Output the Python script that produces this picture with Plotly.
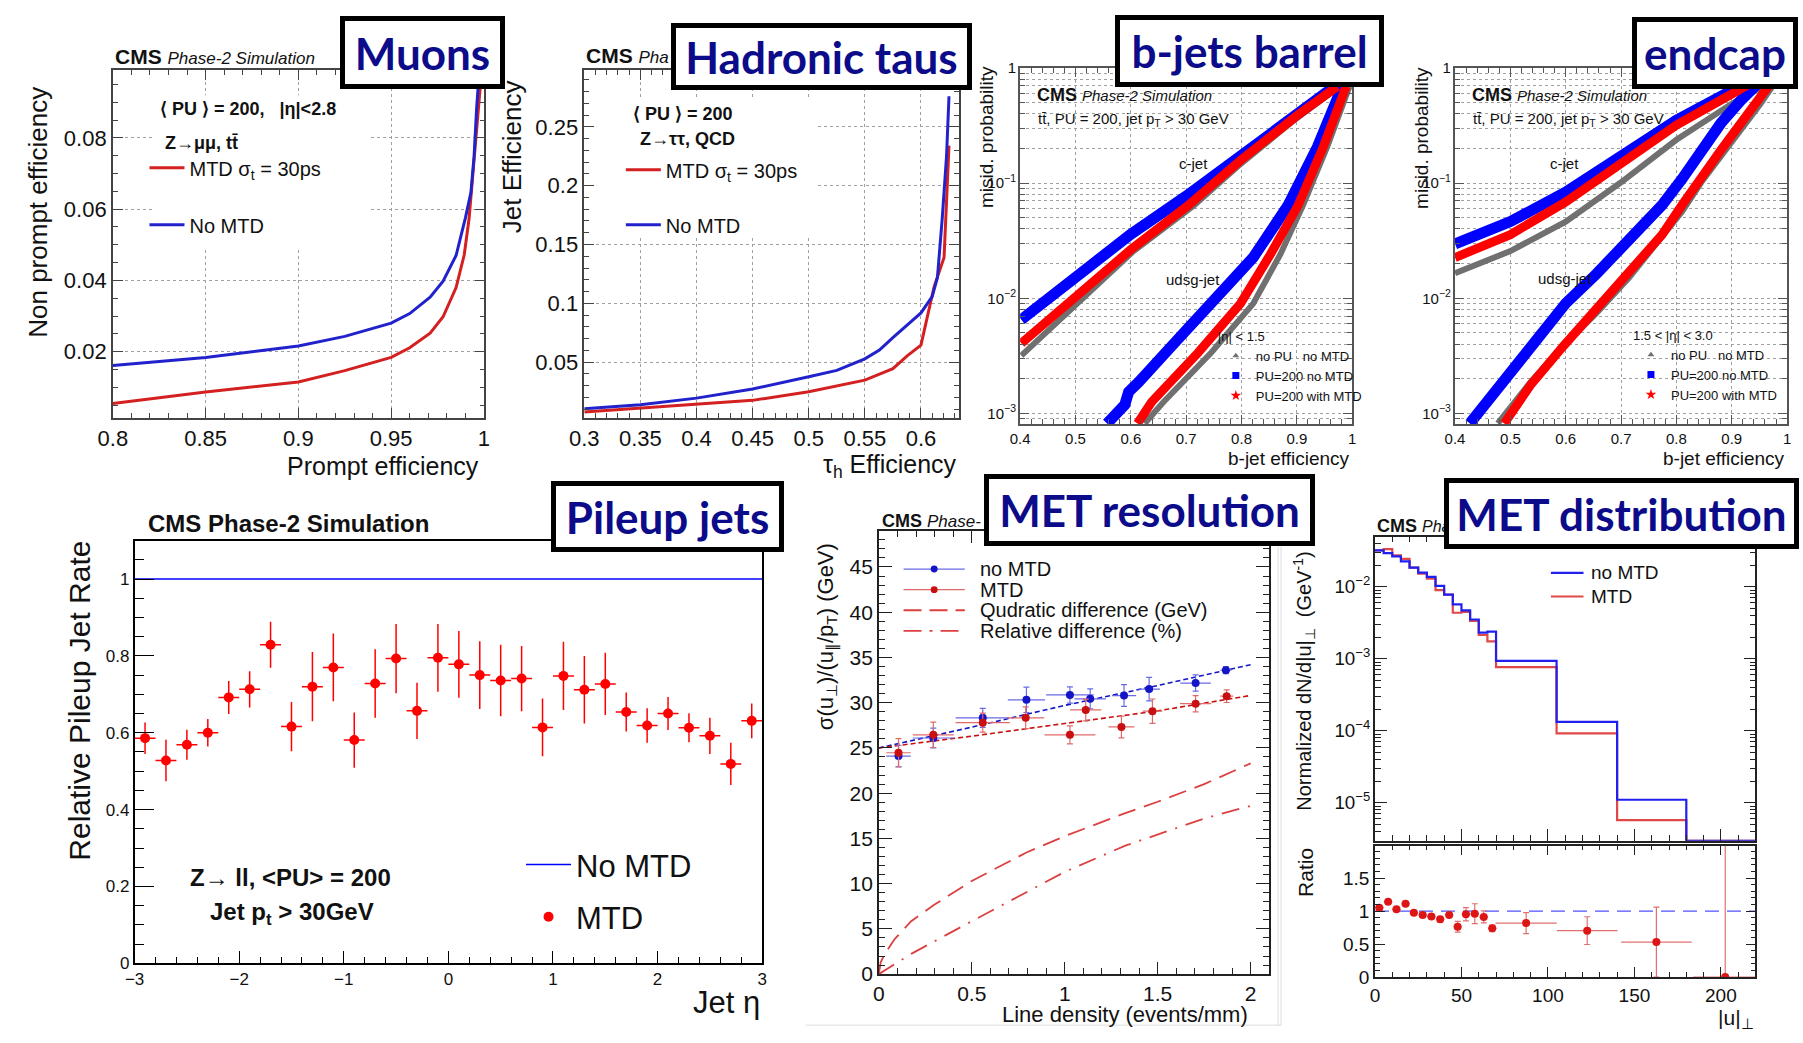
import plotly.graph_objects as go

W, H = 1803, 1043
FONT = "Liberation Sans, Arial, sans-serif"
BOXFONT = "Lato, Open Sans, sans-serif"
NAVY = "#0c0c8a"

# ===================== DATA =====================
# --- Muons: non-prompt vs prompt efficiency
mu_eff_nomtd = [0.800, 0.850, 0.900, 0.925, 0.950, 0.960, 0.971, 0.978, 0.985, 0.990, 0.993, 0.9947, 0.9961, 0.9974]
mu_np_nomtd = [0.0161, 0.0184, 0.0216, 0.0243, 0.0280, 0.0307, 0.0353, 0.0398, 0.0470, 0.0575, 0.0647, 0.0748, 0.0885, 0.0980]
mu_eff_mtd = [0.800, 0.850, 0.900, 0.925, 0.950, 0.960, 0.971, 0.978, 0.985, 0.9894, 0.992, 0.9944, 0.9956, 0.9970, 0.9983]
mu_np_mtd = [0.0055, 0.0087, 0.0115, 0.0147, 0.0184, 0.0211, 0.0252, 0.0298, 0.0380, 0.0472, 0.0573, 0.0720, 0.0812, 0.0885, 0.0960]

# --- Hadronic taus: jet efficiency vs tau_h efficiency
tau_eff_nomtd = [0.300, 0.350, 0.400, 0.450, 0.500, 0.525, 0.550, 0.563, 0.575, 0.600, 0.610, 0.6147, 0.619, 0.6228, 0.625]
tau_jet_nomtd = [0.0104, 0.0138, 0.0194, 0.0272, 0.0375, 0.0430, 0.0528, 0.0603, 0.0709, 0.0918, 0.1057, 0.1220, 0.1727, 0.2250, 0.2760]
tau_eff_mtd = [0.300, 0.350, 0.400, 0.450, 0.500, 0.550, 0.575, 0.588, 0.600, 0.6044, 0.6117, 0.6206, 0.6228, 0.625]
tau_jet_mtd = [0.0077, 0.0110, 0.0138, 0.0175, 0.0249, 0.0347, 0.0444, 0.0556, 0.0645, 0.0834, 0.1140, 0.1390, 0.1840, 0.2340]

# --- b-jets barrel (|eta|<1.5)
bb_c_eff_nomtd = [0.402, 0.5, 0.6, 0.7, 0.8, 0.9, 0.968]
bb_c_nomtd = [0.00652, 0.0148, 0.036, 0.077, 0.175, 0.40, 0.689]
bb_c_eff_mtd = [0.402, 0.5, 0.6, 0.7036, 0.8, 0.9, 0.973]
bb_c_mtd = [0.00407, 0.0100, 0.0265, 0.064, 0.16, 0.385, 0.689]
bb_c_eff_nopu = [0.402, 0.5, 0.602, 0.714, 0.8, 0.9, 0.977]
bb_c_nopu = [0.00318, 0.0086, 0.025, 0.064, 0.149, 0.367, 0.689]
bb_l_eff_nomtd = [0.557, 0.589, 0.596, 0.614, 0.679, 0.750, 0.784, 0.821, 0.884, 0.9375, 0.982]
bb_l_nomtd = [0.00082, 0.00119, 0.00154, 0.00187, 0.0041, 0.00955, 0.0144, 0.0226, 0.064, 0.208, 0.689]
bb_l_eff_mtd = [0.612, 0.6375, 0.7214, 0.798, 0.852, 0.902, 0.948, 0.989]
bb_l_mtd = [0.00082, 0.00126, 0.00337, 0.00899, 0.024, 0.064, 0.208, 0.689]
bb_l_eff_nopu = [0.625, 0.659, 0.745, 0.821, 0.870, 0.911, 0.955, 0.995]
bb_l_nopu = [0.00082, 0.00126, 0.00337, 0.00899, 0.024, 0.064, 0.208, 0.689]

# --- b-jets endcap (1.5<|eta|<3.0)
be_c_eff = [0.4, 0.5, 0.6, 0.7, 0.8, 0.9, 0.952]
be_c_nomtd = [0.0297, 0.0463, 0.0834, 0.1713, 0.3515, 0.633, 0.877]
be_c_mtd = [0.0226, 0.0357, 0.0686, 0.150, 0.319, 0.593, 0.822]
be_c_nopu = [0.0165, 0.0257, 0.0463, 0.1016, 0.2377, 0.488, 0.676]
be_l_eff_nomtd = [0.4267, 0.4535, 0.501, 0.5485, 0.600, 0.6555, 0.715, 0.774, 0.810, 0.845, 0.880, 0.916, 0.952, 0.976]
be_l_nomtd = [0.00082, 0.00119, 0.00245, 0.0047, 0.00904, 0.0163, 0.0334, 0.0643, 0.1084, 0.195, 0.329, 0.52, 0.769, 1.0]
be_l_eff_mtd = [0.489, 0.5366, 0.596, 0.6555, 0.715, 0.774, 0.810, 0.845, 0.881, 0.916, 0.952, 0.982]
be_l_mtd = [0.00082, 0.00177, 0.00386, 0.00794, 0.0163, 0.0356, 0.0643, 0.1156, 0.195, 0.329, 0.556, 0.877]
be_l_eff_nopu = [0.4772, 0.5366, 0.596, 0.6555, 0.715, 0.774, 0.810, 0.845, 0.881, 0.916, 0.952, 0.982]
be_l_nopu = [0.00082, 0.00188, 0.00386, 0.00743, 0.01524, 0.0334, 0.0564, 0.1016, 0.1714, 0.289, 0.488, 0.796]

# --- Pileup jets: relative rate vs jet eta
pu_eta = [-2.9, -2.7, -2.5, -2.3, -2.1, -1.9, -1.7, -1.5, -1.3, -1.1, -0.9, -0.7, -0.5, -0.3, -0.1,
          0.1, 0.3, 0.5, 0.7, 0.9, 1.1, 1.3, 1.5, 1.7, 1.9, 2.1, 2.3, 2.5, 2.7, 2.9]
pu_rate_mtd = [0.586, 0.528, 0.569, 0.600, 0.692, 0.713, 0.829, 0.616, 0.720, 0.770, 0.581, 0.728, 0.793, 0.657, 0.795,
               0.778, 0.750, 0.736, 0.741, 0.614, 0.748, 0.712, 0.727, 0.654, 0.619, 0.650, 0.613, 0.592, 0.519, 0.631]
pu_err_mtd = [0.041, 0.054, 0.039, 0.036, 0.043, 0.047, 0.060, 0.064, 0.090, 0.088, 0.072, 0.089, 0.090, 0.073, 0.088,
              0.087, 0.088, 0.093, 0.085, 0.075, 0.089, 0.088, 0.081, 0.051, 0.045, 0.043, 0.038, 0.047, 0.055, 0.045]
pu_bin_half = 0.1
pu_eta_nomtd = [-3.0, 3.0]
pu_rate_nomtd = [1.0, 1.0]

# --- MET resolution vs line density
mr_dens_nomtd = [0.106, 0.293, 0.559, 0.794, 1.028, 1.137, 1.319, 1.454, 1.704, 1.867]
mr_sig_nomtd = [24.1, 26.1, 28.33, 30.32, 30.86, 30.43, 30.79, 31.51, 32.17, 33.6]
mr_xerr_nomtd = [0.066, 0.11, 0.146, 0.10, 0.128, 0.084, 0.065, 0.058, 0.082, 0.03]
mr_yerr_nomtd = [1.2, 1.1, 1.05, 1.4, 0.9, 1.1, 1.2, 1.3, 0.9, 0.4]
mr_dens_mtd = [0.106, 0.293, 0.559, 0.790, 1.028, 1.113, 1.305, 1.472, 1.704, 1.871]
mr_sig_mtd = [24.47, 26.45, 27.79, 28.33, 26.45, 29.2, 27.32, 29.06, 29.89, 30.72]
mr_xerr_mtd = [0.066, 0.11, 0.146, 0.10, 0.137, 0.084, 0.07, 0.053, 0.084, 0.035]
mr_yerr_mtd = [1.55, 1.4, 1.05, 1.2, 1.0, 1.2, 1.2, 1.35, 0.9, 0.7]
mr_fit_x = [0.0, 0.5, 1.0, 1.5, 2.0]
mr_fit_nomtd = [25.0, 27.3, 29.7, 31.9, 34.2]
mr_fit_mtd = [25.0, 26.3, 27.7, 29.1, 30.8]
mr_quad_x = [0.0, 0.01, 0.032, 0.085, 0.174, 0.298, 0.5, 0.794, 1.0, 1.326, 1.5, 1.75, 2.0]
mr_quad = [0.0, 1.3, 2.24, 3.87, 5.85, 7.66, 10.3, 13.44, 15.25, 17.8, 19.05, 21.0, 23.3]
mr_rel_x = [0.0, 0.174, 0.5, 0.794, 1.0, 1.326, 1.5, 1.75, 2.0]
mr_rel = [0.0, 2.24, 5.85, 9.1, 11.3, 14.2, 15.4, 17.2, 18.6]

# --- MET distribution (|u|_perp)
md_edges = [0, 5, 10, 15, 20, 25, 30, 35, 40, 45, 50, 55, 60, 65, 70, 105, 140, 180, 220]
md_nomtd = [0.032, 0.0294, 0.0265, 0.0226, 0.0184, 0.0157, 0.0137, 0.0103, 0.00778, 0.00568, 0.0047,
            0.00351, 0.00231, 0.00238, 9.35e-4, 1.33e-4, 1.10e-5, 0.0]
md_mtd = [0.032, 0.0334, 0.0273, 0.0244, 0.0184, 0.0152, 0.0130, 0.0090, 0.00778, 0.00436, 0.00446,
          0.00336, 0.00214, 0.00174, 7.67e-4, 9.2e-5, 5.74e-6, 0.0]
md_ratio_x = [2.5, 7.6, 12.4, 17.7, 22.5, 27.6, 32.6, 37.7, 42.9, 47.8, 52.6, 57.7, 62.9, 67.8, 87.4, 122.7, 162.7, 202.5]
md_ratio = [1.05, 1.139, 1.025, 1.109, 0.975, 0.941, 0.916, 0.876, 0.941, 0.762, 0.95, 0.96, 0.911, 0.738, 0.817, 0.703, 0.53, 0.0]
md_ratio_xerr = [2.5, 2.5, 2.5, 2.5, 2.5, 2.5, 2.5, 2.5, 2.5, 2.5, 2.5, 2.5, 2.5, 2.5, 17.7, 17.5, 20.4, 18.5]
md_ratio_eup = [0.02, 0.02, 0.02, 0.02, 0.02, 0.03, 0.03, 0.04, 0.03, 0.08, 0.10, 0.15, 0.09, 0.05, 0.16, 0.21, 0.53, 2.0]
md_ratio_edn = [0.02, 0.02, 0.02, 0.02, 0.02, 0.03, 0.03, 0.04, 0.03, 0.08, 0.10, 0.15, 0.09, 0.05, 0.16, 0.21, 0.53, 0.0]
md_ref_x = [0, 220]
md_ref_y = [1.0, 1.0]
md_log_floor = 10 ** -5.528

# ===================== STYLE / GEOMETRY =====================
frames = {  # left, right, top, bottom (px)
    1: (99, 475, 62, 417),
    2: (576, 955, 62, 417),
    3: (1017, 1353, 60, 423),
    4: (1457, 1793, 60, 423),
    5: (121, 756, 542, 973),
    6: (874, 1269, 532, 984),
    7: (1376, 1761, 538, 848),
    8: (1376, 1761, 853, 987),
}

MU_RED, MU_BLUE = "#d42020", "#2222cc"
BJ_BLUE, BJ_RED, BJ_GRAY = "#0000ff", "#ff0000", "#707070"
PU_RED, PU_BLUE = "#ff0000", "#0000ff"
MR_BLUE, MR_RED, MR_LRED = "#1515c8", "#c81010", "#dd4040"
MR_EB, MR_ER = "#6a6ae6", "#e06a6a"
MD_BLUE, MD_RED = "#2020ee", "#e04848"


def ax(rng, dtick, mdtick, tsize, tlen=10, mlen=5, grid=False, mgrid=False,
       lc="#444444", lw=1.5, mirror="allticks", typ="linear", labels=True, tick0=None, exp=None):
    d = dict(range=rng, type=typ, dtick=dtick, showline=True, linecolor=lc, linewidth=lw,
             mirror=mirror, ticks="inside", ticklen=tlen, tickwidth=1, tickcolor=lc,
             zeroline=False, showgrid=grid, gridcolor="#a0a0a0", griddash="dot", gridwidth=1,
             tickfont=dict(family=FONT, size=tsize, color="#111111"), showticklabels=labels,
             fixedrange=True,
             minor=dict(ticks="inside", ticklen=mlen, tickcolor=lc, dtick=mdtick, showgrid=mgrid,
                        gridcolor="#a0a0a0", griddash="dot", gridwidth=1))
    if tick0 is not None:
        d["tick0"] = tick0
    if exp:
        d["exponentformat"] = exp
    return d


layout_axes = {}


def place(n, xd, yd):
    l, r, t, b = frames[n]
    s = "" if n == 1 else str(n)
    xd.update(domain=[l / W, r / W], anchor="y" + s)
    yd.update(domain=[1 - b / H, 1 - t / H], anchor="x" + s)
    layout_axes["xaxis" + s] = xd
    layout_axes["yaxis" + s] = yd


place(1, ax([0.8, 1.0003], 0.05, 0.01, 22, grid=True, tick0=0.8),
      ax([0.0014, 0.0991], 0.02, 0.005, 22, grid=True, tick0=0))
place(2, ax([0.3, 0.6338], 0.05, 0.01, 22, grid=True, tick0=0.3),
      ax([0.0025, 0.2985], 0.05, 0.01, 22, grid=True, tick0=0))
place(3, ax([0.4, 1.0], 0.1, 0.02, 15, tlen=9, mlen=5, grid=True, lc="#555555", tick0=0.4),
      ax([-3.09, 0], 1, "D1", 12, tlen=9, mlen=5, grid=True, mgrid=True, lc="#555555", typ="log", exp="power"))
place(4, ax([0.4, 1.0], 0.1, 0.02, 15, tlen=9, mlen=5, grid=True, lc="#555555", tick0=0.4),
      ax([-3.09, 0], 1, "D1", 12, tlen=9, mlen=5, grid=True, mgrid=True, lc="#555555", typ="log", exp="power"))
place(5, ax([-3, 3], 1, 0.2, 17, tlen=13, mlen=7, lc="#000000", lw=1.5, mirror=True, tick0=0),
      ax([0, 1.1], 0.2, 0.05, 17, tlen=20, mlen=10, lc="#000000", lw=1.5, mirror=True, tick0=0))
place(6, ax([0, 2.1], 0.5, 0.1, 21, tlen=12, mlen=6, lc="#222222", tick0=0),
      ax([0, 49], 5, 1, 21, tlen=13, mlen=6, lc="#222222", tick0=0))
place(7, ax([0, 220], 50, 10, 19, tlen=12, mlen=6, lc="#222222", labels=False, tick0=0),
      ax([-5.528, -1.304], 1, "D1", 15, tlen=12, mlen=6, lc="#222222", typ="log", exp="power"))
place(8, ax([0, 220], 50, 10, 19, tlen=10, mlen=5, lc="#222222", tick0=0),
      ax([0, 1.99], 0.5, 0.1, 19, tlen=10, mlen=5, lc="#222222", tick0=0))

fig = go.Figure()
add = fig.add_trace

# ---- Muons
add(go.Scatter(x=mu_eff_mtd, y=mu_np_mtd, mode="lines", line=dict(color=MU_RED, width=3),
               name="MTD σ<sub>t</sub> = 30ps", xaxis="x", yaxis="y", legend="legend", legendgroup="m1"))
add(go.Scatter(x=mu_eff_nomtd, y=mu_np_nomtd, mode="lines", line=dict(color=MU_BLUE, width=3),
               name="No MTD", xaxis="x", yaxis="y", legend="legend", legendgroup="m2"))
# ---- Taus
add(go.Scatter(x=tau_eff_mtd, y=tau_jet_mtd, mode="lines", line=dict(color=MU_RED, width=3),
               name="MTD σ<sub>t</sub> = 30ps", xaxis="x2", yaxis="y2", legend="legend2", legendgroup="t1"))
add(go.Scatter(x=tau_eff_nomtd, y=tau_jet_nomtd, mode="lines", line=dict(color=MU_BLUE, width=3),
               name="No MTD", xaxis="x2", yaxis="y2", legend="legend2", legendgroup="t2"))


# ---- b-jets
def bjets(n, curves, leg):
    xa, ya = "x%d" % n, "y%d" % n
    for xs, ys, col, wd in curves:
        add(go.Scatter(x=xs, y=ys, mode="lines", line=dict(color=col, width=wd), showlegend=False,
                       xaxis=xa, yaxis=ya, hoverinfo="skip"))
    for nm, sym, col, sz in [("no PU\u00a0\u00a0\u00a0no MTD", "triangle-up", BJ_GRAY, 6),
                             ("PU=200 no MTD", "square", BJ_BLUE, 7),
                             ("PU=200 with MTD", "star", BJ_RED, 8)]:
        add(go.Scatter(x=[None], y=[None], mode="markers", marker=dict(symbol=sym, size=sz, color=col),
                       name=nm, xaxis=xa, yaxis=ya, legend=leg))


bjets(3, [(bb_c_eff_nopu, bb_c_nopu, BJ_GRAY, 6), (bb_l_eff_nopu, bb_l_nopu, BJ_GRAY, 6),
          (bb_c_eff_nomtd, bb_c_nomtd, BJ_BLUE, 11), (bb_l_eff_nomtd, bb_l_nomtd, BJ_BLUE, 11),
          (bb_c_eff_mtd, bb_c_mtd, BJ_RED, 9), (bb_l_eff_mtd, bb_l_mtd, BJ_RED, 9)], "legend3")
bjets(4, [(be_c_eff, be_c_nopu, BJ_GRAY, 6), (be_l_eff_nopu, be_l_nopu, BJ_GRAY, 6),
          (be_c_eff, be_c_nomtd, BJ_BLUE, 11), (be_l_eff_nomtd, be_l_nomtd, BJ_BLUE, 11),
          (be_c_eff, be_c_mtd, BJ_RED, 9), (be_l_eff_mtd, be_l_mtd, BJ_RED, 9)], "legend4")

# ---- Pileup jets
add(go.Scatter(x=pu_eta_nomtd, y=pu_rate_nomtd, mode="lines", line=dict(color=PU_BLUE, width=1.5),
               name="No MTD", xaxis="x5", yaxis="y5", legend="legend5", legendgroup="p1"))
add(go.Scatter(x=pu_eta, y=pu_rate_mtd, mode="markers", marker=dict(color=PU_RED, size=10),
               error_y=dict(type="data", array=pu_err_mtd, color=PU_RED, thickness=1.5, width=0),
               error_x=dict(type="constant", value=pu_bin_half, color=PU_RED, thickness=1.5, width=0),
               name="MTD", xaxis="x5", yaxis="y5", legend="legend5", legendgroup="p2"))

# ---- MET resolution
add(go.Scatter(x=mr_fit_x, y=mr_fit_nomtd, mode="lines", line=dict(color=MR_BLUE, width=1.6, dash="5px,3px"),
               showlegend=False, xaxis="x6", yaxis="y6"))
add(go.Scatter(x=mr_fit_x, y=mr_fit_mtd, mode="lines", line=dict(color=MR_RED, width=1.6, dash="5px,3px"),
               showlegend=False, xaxis="x6", yaxis="y6"))
add(go.Scatter(x=mr_dens_nomtd, y=mr_sig_nomtd, mode="markers", marker=dict(color=MR_BLUE, size=8),
               error_x=dict(type="data", array=mr_xerr_nomtd, color=MR_EB, thickness=1.2, width=0),
               error_y=dict(type="data", array=mr_yerr_nomtd, color=MR_EB, thickness=1.2, width=3),
               showlegend=False, xaxis="x6", yaxis="y6"))
add(go.Scatter(x=mr_dens_mtd, y=mr_sig_mtd, mode="markers", marker=dict(color=MR_RED, size=8),
               error_x=dict(type="data", array=mr_xerr_mtd, color=MR_ER, thickness=1.2, width=0),
               error_y=dict(type="data", array=mr_yerr_mtd, color=MR_ER, thickness=1.2, width=3),
               showlegend=False, xaxis="x6", yaxis="y6"))
add(go.Scatter(x=mr_quad_x, y=mr_quad, mode="lines", line=dict(color=MR_LRED, width=1.8, dash="18px,9px"),
               showlegend=False, xaxis="x6", yaxis="y6"))
add(go.Scatter(x=mr_rel_x, y=mr_rel, mode="lines", line=dict(color=MR_LRED, width=1.8, dash="18px,9px,2px,9px"),
               showlegend=False, xaxis="x6", yaxis="y6"))

# ---- MET distribution
md_nomtd_plot = [max(v, md_log_floor) for v in md_nomtd + [md_nomtd[-1]]]
md_mtd_plot = [max(v, md_log_floor) for v in md_mtd + [md_mtd[-1]]]
add(go.Scatter(x=md_edges, y=md_mtd_plot, mode="lines", line=dict(color=MD_RED, width=2.2, shape="hv"),
               showlegend=False, xaxis="x7", yaxis="y7"))
add(go.Scatter(x=md_edges, y=md_nomtd_plot, mode="lines", line=dict(color=MD_BLUE, width=2.2, shape="hv"),
               showlegend=False, xaxis="x7", yaxis="y7"))
add(go.Scatter(x=md_ref_x, y=md_ref_y, mode="lines", line=dict(color="#5050ff", width=1.2, dash="14px,8px"),
               showlegend=False, xaxis="x8", yaxis="y8"))
add(go.Scatter(x=md_ratio_x, y=md_ratio, mode="markers", marker=dict(color="#dd1515", size=8),
               error_x=dict(type="data", array=md_ratio_xerr, color="#e07070", thickness=1.2, width=0),
               error_y=dict(type="data", array=md_ratio_eup, arrayminus=md_ratio_edn, color="#e07070",
                            thickness=1.2, width=3),
               showlegend=False, xaxis="x8", yaxis="y8", cliponaxis=True))

# ===================== TEXT =====================
ann = []
shapes = []


def T(x, y, text, size, xa="left", ya="middle", color="#111111", angle=0, family=FONT):
    ann.append(dict(x=x / W, y=1 - y / H, xref="paper", yref="paper", text=text, showarrow=False,
                    xanchor=xa, yanchor=ya, textangle=angle,
                    font=dict(family=family, size=size, color=color)))


def CMS(x, y, s1, s2, tail="Phase-2 Simulation"):
    T(x, y, "<b>CMS</b> <i><span style='font-size:%dpx'>%s</span></i>" % (s2, tail), s1)


# Muons
CMS(99, 48, 21, 17)
T(145, 102, "<b>⟨ PU ⟩ = 200,\u00a0\u00a0\u00a0|η|&lt;2.8</b>", 18)
T(150, 137, "<b>Z→μμ, tt̄</b>", 18)
T(23, 207, "Non prompt efficiency", 26, xa="center", angle=-90)
T(471, 466, "Prompt efficiency", 25, xa="right")
# Taus
CMS(576, 47, 21, 17, tail="Pha")
T(623, 107, "<b>⟨ PU ⟩ = 200</b>", 18)
T(630, 133, "<b>Z→ττ, QCD</b>", 18)
T(503, 151, "Jet Efficiency", 26, xa="center", angle=-90)
T(955, 466, "τ<sub>h</sub> Efficiency", 25, xa="right")
# b-jets
for dx in (0, 440):
    CMS(1032 + dx, 88, 18, 15)
    T(1033 + dx, 113, "tt̄, PU = 200, jet p<sub>T</sub> &gt; 30 GeV", 15)
    T(983 + dx, 131, "misid. probability", 19, xa="center", angle=-90)
    T(1353 + dx, 458, "b-jet efficiency", 19, xa="right")
T(1192, 158, "c-jet", 15, xa="center")
T(1192, 276, "udsg-jet", 15, xa="center")
T(1568, 158, "c-jet", 15, xa="center")
T(1568, 275, "udsg-jet", 15, xa="center")
# Pileup
T(133, 525, "<b>CMS Phase-2 Simulation</b>", 24)
T(175, 885, "<b>Z→ ll, &lt;PU&gt; = 200</b>", 24)
T(195, 922, "<b>Jet p<sub>t</sub> &gt; 30GeV</b>", 24)
T(65, 705, "Relative Pileup Jet Rate", 30, xa="center", angle=-90)
T(756, 1013, "Jet η", 31, xa="right")
# MET resolution
CMS(875, 522, 18, 17, tail="Phase-")
T(822, 640, "σ(u<sub>⊥</sub>)/(u<sub>∥</sub>/p<sub>T</sub>) (GeV)", 22, xa="center", angle=-90)
T(1250, 1025, "Line density (events/mm)", 22, xa="right")
mr_leg = [("no MTD", "solid", MR_EB, MR_BLUE), ("MTD", "solid", MR_ER, MR_RED),
          ("Qudratic difference (GeV)", "18px,8px", MR_LRED, None),
          ("Relative difference (%)", "18px,8px,3px,8px", MR_LRED, None)]
for i, (lab, dash, lcol, mcol) in enumerate(mr_leg):
    yy = 571 + 21 * i
    shapes.append(dict(type="line", xref="paper", yref="paper", x0=899 / W, x1=961 / W, y0=1 - yy / H, y1=1 - yy / H,
                       line=dict(color=lcol, width=1.2 if mcol else 1.8, dash=dash)))
    if mcol:
        shapes.append(dict(type="circle", xref="paper", yref="paper", x0=926.5 / W, x1=933.5 / W,
                           y0=1 - (yy + 3.5) / H, y1=1 - (yy - 3.5) / H, fillcolor=mcol, line=dict(width=0)))
    T(974, yy, lab, 20)
# MET distribution
CMS(1376, 527, 18, 16, tail="Pha")
T(1305, 551, "Normalized dN/d|u|<sub>⊥</sub>\u00a0\u00a0(GeV<sup>-1</sup>)", 20, xa="center", ya="top", angle=-90)
T(1305, 880, "Ratio", 21, xa="center", angle=-90)
T(1762, 1030, "|u|<sub>⊥</sub>", 21, xa="right")
for i, (lab, col) in enumerate([("no MTD", MD_BLUE), ("MTD", MD_RED)]):
    yy = 575 + 24 * i
    shapes.append(dict(type="line", xref="paper", yref="paper", x0=1554 / W, x1=1587 / W, y0=1 - yy / H,
                       y1=1 - yy / H, line=dict(color=col, width=2.2)))
    T(1593, yy, lab, 19)


def BOX(cx, cy, w, h, text, size=44):
    ann.append(dict(x=cx / W, y=1 - cy / H, xref="paper", yref="paper", text="<b>%s</b>" % text,
                    showarrow=False, xanchor="center", yanchor="middle", width=w, height=h,
                    bgcolor="white", bordercolor="black", borderwidth=5, borderpad=0,
                    align="center", valign="middle", font=dict(family=BOXFONT, size=size, color=NAVY)))


BOX(412.5, 44.5, 155, 63, "Muons")
BOX(816.5, 48.5, 291, 57, "Hadronic taus")
BOX(1249.5, 43, 259, 62, "b-jets barrel")
BOX(1720, 45, 156, 62, "endcap")
BOX(660.5, 517.5, 223, 61, "Pileup jets")
BOX(1147.5, 511, 321, 62, "MET resolution")
BOX(1625.5, 514.5, 345, 61, "MET distribution")


# ===================== SHAPES =====================
def to_data(n, px, py, xr, yr):
    l, r, t, b = frames[n]
    return xr[0] + (px - l) / (r - l) * (xr[1] - xr[0]), yr[1] - (py - t) / (b - t) * (yr[1] - yr[0])


for n, (x0p, y0p, x1p, y1p), xr, yr in [(1, (140, 88, 358, 245), [0.8, 1.0003], [0.0014, 0.0991]),
                                         (2, (588, 90, 810, 233), [0.3, 0.6338], [0.0025, 0.2985])]:
    xa0, ya0 = to_data(n, x0p, y1p, xr, yr)
    xa1, ya1 = to_data(n, x1p, y0p, xr, yr)
    s = "" if n == 1 else str(n)
    shapes.append(dict(type="rect", xref="x" + s, yref="y" + s, x0=xa0, x1=xa1, y0=ya0, y1=ya1,
                       fillcolor="white", line=dict(width=0), layer="between"))
for xx in (1278, 1281):
    shapes.append(dict(type="line", xref="paper", yref="paper", x0=xx / W, x1=xx / W, y0=1 - 548 / H, y1=1 - 1036 / H,
                       line=dict(color="#dcdcdc", width=1)))
shapes.append(dict(type="line", xref="paper", yref="paper", x0=800 / W, x1=1281 / W, y0=1 - 1036 / H, y1=1 - 1036 / H,
                   line=dict(color="#dcdcdc", width=1)))


def LEG(x, y, size, gap=0, title=None, tsize=None, iw=30, order="grouped"):
    d = dict(x=x / W, y=1 - y / H, xanchor="left", yanchor="top", bgcolor="rgba(0,0,0,0)",
             font=dict(family=FONT, size=size, color="#111111"), tracegroupgap=gap, traceorder=order,
             borderwidth=0, itemwidth=iw)
    if title:
        d["title"] = dict(text=title, font=dict(family=FONT, size=tsize or size, color="#111111"))
    return d


fig.update_layout(
    width=W, height=H, autosize=False, margin=dict(l=0, r=0, t=0, b=0),
    paper_bgcolor="white", plot_bgcolor="white",
    annotations=ann, shapes=shapes,
    legend=LEG(131, 142, 20, gap=28, iw=35),
    legend2=LEG(613, 144, 20, gap=26, iw=35),
    legend3=LEG(1215, 321, 13, title="|η| &lt; 1.5", tsize=13, order="normal"),
    legend4=LEG(1635, 320, 13, title="1.5 &lt; |η| &lt; 3.0", tsize=13, order="normal"),
    legend5=LEG(512, 845, 31, gap=9, iw=45),
    **layout_axes,
)

# remove the browser's default page margin so the figure sits exactly at the window origin
page_fix = ("document.documentElement.style.margin='0';document.body.style.margin='0';"
            "document.body.style.padding='0';document.body.style.overflow='hidden';")
fig.write_html("out.html", post_script=page_fix)
